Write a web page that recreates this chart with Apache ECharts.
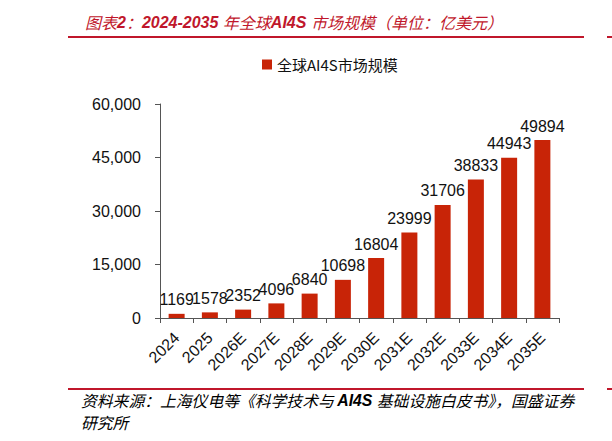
<!DOCTYPE html>
<html>
<head>
<meta charset="utf-8">
<script src="https://cdn.jsdelivr.net/npm/echarts@6/dist/echarts.min.js"></script>
<style>
  html, body { margin: 0; padding: 0; background: #fff; }
  #chart { width: 612px; height: 441px; }
</style>
</head>
<body>
<div id="chart"></div>
<script>
// 年份与市场规模（亿美元）
const years = ['2024', '2025', '2026E', '2027E', '2028E', '2029E', '2030E', '2031E', '2032E', '2033E', '2034E', '2035E']
const marketSize = [1169, 1578, 2352, 4096, 6840, 10698, 16804, 23999, 31706, 38833, 44943, 49894]
const seriesName = '全球AI4S市场规模'

const red = '#C0172B'
const barColor = '#C82407'
const txtFont = "'Liberation Sans', Arial, 'Noto Sans CJK SC', sans-serif"
const cjkFont = "'Noto Sans CJK SC', sans-serif"

const chart = echarts.init(document.getElementById('chart'), null, { renderer: 'svg' })

// 标题、来源里中文用细斜体，英文数字用粗斜体
const richStyle = (size) => ({
  c: { fontFamily: cjkFont, fontStyle: 'italic', fontWeight: 'normal', fontSize: size, color: red },
  b: { fontFamily: txtFont, fontStyle: 'italic', fontWeight: 'bold', fontSize: size, color: red }
})

const option = {
  animation: false,
  backgroundColor: '#fff',
  title: {
    left: 80,
    top: 9,
    text: '{c|图表}{b|2}{c|：}{b|2024-2035 }{c|年全球}{b|AI4S }{c|市场规模（单位：亿美元）}',
    textStyle: { rich: richStyle(16) }
  },
  legend: {
    left: 257,
    top: 52,
    icon: 'rect',
    itemWidth: 10,
    itemHeight: 10,
    itemGap: 4,
    data: [seriesName],
    textStyle: { fontFamily: cjkFont, fontSize: 15, color: '#111' }
  },
  grid: { left: 160, right: 53, top: 104, bottom: 123, containLabel: false },
  xAxis: {
    type: 'category',
    data: years,
    axisLine: { lineStyle: { color: '#555', width: 1 } },
    axisTick: { show: true, length: 5, alignWithLabel: false, lineStyle: { color: '#555' } },
    axisLabel: {
      rotate: 45,
      margin: 17,
      interval: 0,
      fontFamily: txtFont,
      fontSize: 16,
      color: '#111'
    }
  },
  yAxis: {
    type: 'value',
    min: 0,
    max: 60000,
    interval: 15000,
    axisLine: { show: true, lineStyle: { color: '#555', width: 1 } },
    axisTick: { show: true, length: 5, lineStyle: { color: '#555' } },
    splitLine: { show: false },
    axisLabel: {
      margin: 19,
      fontFamily: txtFont,
      fontSize: 16,
      color: '#111',
      formatter: v => v.toLocaleString('en-US')
    }
  },
  series: [{
    name: seriesName,
    type: 'bar',
    data: marketSize,
    barWidth: 16,
    itemStyle: { color: barColor },
    label: {
      show: true,
      position: 'top',
      distance: 6,
      fontFamily: txtFont,
      fontSize: 16,
      color: '#111'
    }
  }],
  graphic: [
    { type: 'rect', shape: { x: 68, y: 36, width: 516, height: 2 }, style: { fill: red } },
    { type: 'rect', shape: { x: 607, y: 36, width: 5, height: 2 }, style: { fill: red } },
    { type: 'rect', shape: { x: 68, y: 388, width: 516, height: 2 }, style: { fill: red } },
    { type: 'rect', shape: { x: 607, y: 388, width: 5, height: 2 }, style: { fill: red } },
    {
      type: 'text', left: 81, top: 393,
      style: {
        text: '{c|资料来源：上海仪电等《科学技术与 }{b|AI4S }{c|基础设施白皮书》，国盛证券}',
        rich: richStyle(15.8)
      }
    },
    {
      type: 'text', left: 81, top: 415,
      style: { text: '{c|研究所}', rich: richStyle(15.8) }
    }
  ]
}

chart.setOption(option)
</script>
</body>
</html>
